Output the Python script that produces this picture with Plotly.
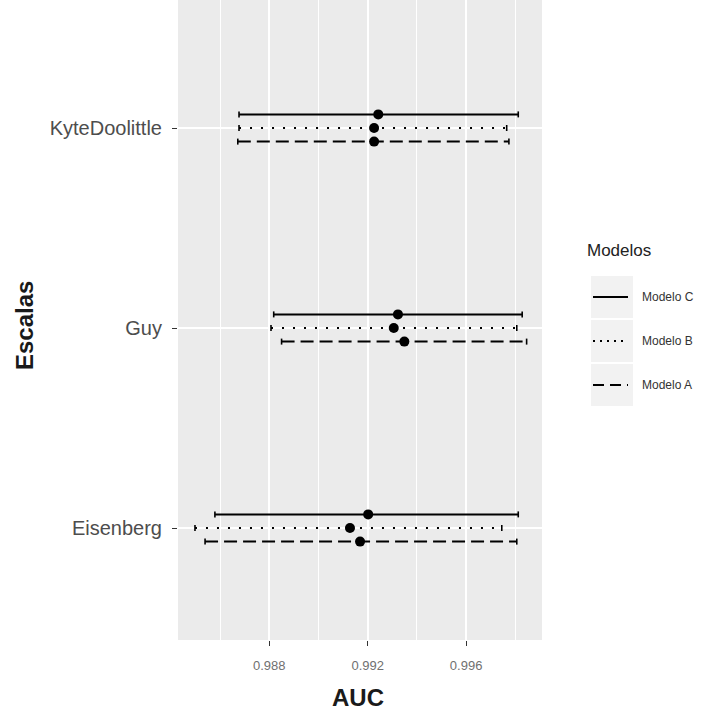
import plotly.graph_objects as go

# ---- data ----
escalas = ["Eisenberg", "Guy", "KyteDoolittle"]
modelos = ["Modelo C", "Modelo B", "Modelo A"]

auc_c = [0.99202, 0.99323, 0.99243]
lo_c = [0.98579, 0.98818, 0.98677]
hi_c = [0.99812, 0.99828, 0.99812]

auc_b = [0.99128, 0.99306, 0.99226]
lo_b = [0.98498, 0.98807, 0.98677]
hi_b = [0.99745, 0.99806, 0.99765]

auc_a = [0.99169, 0.99349, 0.99226]
lo_a = [0.98539, 0.98850, 0.98672]
hi_a = [0.99806, 0.99846, 0.99774]

x_ticks = [0.988, 0.992, 0.996]
x_minor = [0.986, 0.990, 0.994, 0.998]

# ---- styling ----
FONT = "Liberation Sans, Arial, sans-serif"
series = [
    ("Modelo C", auc_c, lo_c, hi_c, "solid", 0.068),
    ("Modelo B", auc_b, lo_b, hi_b, "2px,9px", 0.0),
    ("Modelo A", auc_a, lo_a, hi_a, "13px,6px", -0.068),
]
CAP = 0.015

fig = go.Figure()
for name, auc, lo, hi, dash, off in series:
    ys = [i + 1 + off for i in range(len(escalas))]
    lx, ly, cx, cy = [], [], [], []
    for y, l, h in zip(ys, lo, hi):
        lx += [l, h, None]
        ly += [y, y, None]
        cx += [l, l, None, h, h, None]
        cy += [y - CAP, y + CAP, None, y - CAP, y + CAP, None]
    fig.add_trace(go.Scatter(x=lx, y=ly, mode="lines", showlegend=False,
                             line=dict(color="black", width=2, dash=dash),
                             hoverinfo="skip"))
    fig.add_trace(go.Scatter(x=cx, y=cy, mode="lines", showlegend=False,
                             line=dict(color="black", width=1.6),
                             hoverinfo="skip"))
    fig.add_trace(go.Scatter(x=auc, y=ys, mode="markers", showlegend=False,
                             marker=dict(color="black", size=10),
                             name=name))

W, H = 707, 713
L, R, T, B = 178, 542, 0, 640
pw, ph = R - L, B - T


def px(x):
    return (x - L) / pw


def py(y):
    return (B - y) / ph


shapes = []
annotations = []

# legend (manual, ggplot-style)
annotations.append(dict(x=px(585), y=py(250), xref="paper", yref="paper",
                        text="Modelos", showarrow=False, xanchor="left",
                        yanchor="middle",
                        font=dict(family=FONT, size=17, color="#222")))
key_centers = [297, 341, 385]
key_dash = ["solid", "2px,5px", "11px,6px"]
for name, yc, dash in zip(modelos, key_centers, key_dash):
    shapes.append(dict(type="rect", xref="paper", yref="paper",
                       x0=px(591), x1=px(633), y0=py(yc - 21), y1=py(yc + 21),
                       fillcolor="#f2f2f2", line=dict(width=0), layer="below"))
    shapes.append(dict(type="line", xref="paper", yref="paper",
                       x0=px(593), x1=px(628), y0=py(yc), y1=py(yc),
                       line=dict(color="black", width=2, dash=dash)))
    annotations.append(dict(x=px(640), y=py(yc), xref="paper", yref="paper",
                            text=name, showarrow=False, xanchor="left",
                            yanchor="middle",
                            font=dict(family=FONT, size=12, color="#333")))

# axis titles
annotations.append(dict(x=px(358), y=py(697), xref="paper", yref="paper",
                        text="<b>AUC</b>", showarrow=False,
                        xanchor="center", yanchor="middle",
                        font=dict(family=FONT, size=24, color="#1a1a1a")))
annotations.append(dict(x=px(24), y=py(326), xref="paper", yref="paper",
                        text="<b>Escalas</b>", showarrow=False, textangle=-90,
                        xanchor="center", yanchor="middle",
                        font=dict(family=FONT, size=24, color="#1a1a1a")))

fig.update_layout(
    width=W, height=H,
    margin=dict(l=L, r=W - R, t=T, b=H - B, pad=0),
    paper_bgcolor="white",
    plot_bgcolor="#ebebeb",
    showlegend=False,
    shapes=shapes,
    annotations=annotations,
    font=dict(family=FONT),
    xaxis=dict(
        range=[0.98429, 0.999085],
        tickmode="array", tickvals=x_ticks,
        ticktext=[f"{v:.3f}" for v in x_ticks],
        showgrid=True, gridcolor="white", gridwidth=1.6,
        minor=dict(tickmode="array", tickvals=x_minor, showgrid=True,
                   gridcolor="white", gridwidth=0.7, ticks=""),
        ticks="outside", ticklen=5, tickwidth=1.2, tickcolor="#333",
        ticklabelstandoff=8,
        tickfont=dict(family=FONT, size=13, color="#707070"),
        zeroline=False, showline=False, fixedrange=True,
    ),
    yaxis=dict(
        range=[0.44, 3.64],
        tickmode="array", tickvals=[1, 2, 3], ticktext=escalas,
        showgrid=True, gridcolor="white", gridwidth=1.6,
        ticks="outside", ticklen=5, tickwidth=1.2, tickcolor="#333",
        ticklabelstandoff=6,
        tickfont=dict(family=FONT, size=20, color="#4d4d4d"),
        zeroline=False, showline=False, fixedrange=True,
    ),
)

fig.write_html(
    "out.html",
    config={"displayModeBar": False},
    post_script="document.body.style.margin='0px';document.body.style.padding='0px';",
)
